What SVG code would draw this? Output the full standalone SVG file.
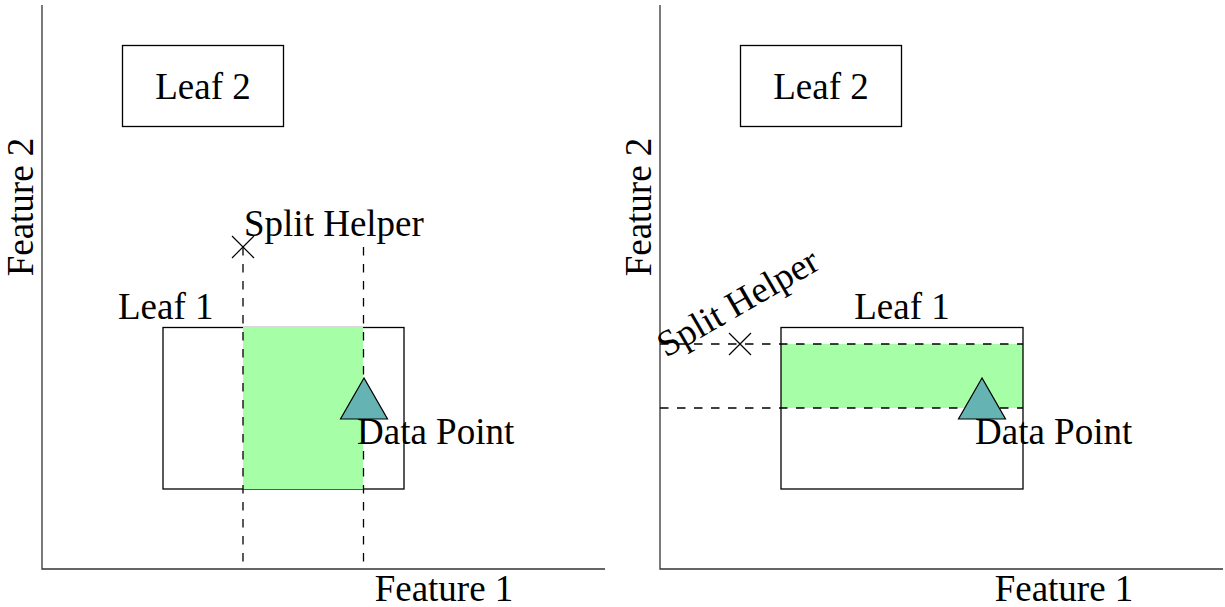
<svg xmlns="http://www.w3.org/2000/svg" width="1225" height="607" viewBox="0 0 1225 607">
  <style>
    text { font-family: "Liberation Serif", "Times New Roman", serif; font-size: 37px; fill: #000; }
    .axis { stroke: #333; stroke-width: 1.3; fill: none; }
    .box { stroke: #000; stroke-width: 1.3; fill: none; }
    .region { fill: #a6ffa6; stroke: none; }
    .split { stroke: #000; stroke-width: 1.3; stroke-dasharray: 8.5 8.5; fill: none; }
    .cross { stroke: #000; stroke-width: 1.2; fill: none; }
    .point { fill: #66b3b3; stroke: #000; stroke-width: 1.2; stroke-linejoin: miter; }
  </style>
  <rect width="1225" height="607" fill="#fff"/>

  <!-- Left panel: vertical split -->
  <g id="left-panel">
    <g id="left-axes">
      <path class="axis" d="M42,5 V569 H605"/>
      <text x="444" y="601" text-anchor="middle">Feature 1</text>
      <text transform="translate(33,207) rotate(-90)" text-anchor="middle">Feature 2</text>
    </g>
    <g id="left-leaf2">
      <rect class="box" x="122.5" y="45.5" width="161" height="81"/>
      <text x="203" y="99" text-anchor="middle">Leaf 2</text>
    </g>
    <g id="left-leaf1">
      <rect class="box" x="163" y="327.5" width="241" height="161.5"/>
      <text x="118" y="319">Leaf 1</text>
    </g>
    <g id="left-region">
      <rect class="region" x="243" y="327" width="120" height="162"/>
    </g>
    <g id="left-connectors">
      <line class="split" x1="243" y1="247" x2="243" y2="569"/>
      <line class="split" x1="363.5" y1="247" x2="363.5" y2="569"/>
    </g>
    <g id="left-split-helper">
      <path class="cross" d="M232,236 L254,258 M254,236 L232,258"/>
      <text x="244" y="236">Split Helper</text>
    </g>
    <g id="left-data-point">
      <polygon class="point" points="364,378 340.5,419 387.5,419"/>
      <text x="357" y="444">Data Point</text>
    </g>
  </g>

  <!-- Right panel: horizontal split -->
  <g id="right-panel">
    <g id="right-axes">
      <path class="axis" d="M660,5 V569 H1223"/>
      <text x="1064" y="601" text-anchor="middle">Feature 1</text>
      <text transform="translate(651,207) rotate(-90)" text-anchor="middle">Feature 2</text>
    </g>
    <g id="right-leaf2">
      <rect class="box" x="740.5" y="45.5" width="161" height="81"/>
      <text x="821" y="99" text-anchor="middle">Leaf 2</text>
    </g>
    <g id="right-region">
      <rect class="region" x="781" y="344" width="242" height="64"/>
    </g>
    <g id="right-leaf1">
      <rect class="box" x="781" y="327.5" width="242" height="161.5"/>
      <text x="902" y="319" text-anchor="middle">Leaf 1</text>
    </g>
    <g id="right-connectors">
      <line class="split" x1="660" y1="344" x2="1023" y2="344"/>
      <line class="split" x1="660" y1="408" x2="1023" y2="408"/>
    </g>
    <g id="right-split-helper">
      <path class="cross" d="M729,333 L751,355 M751,333 L729,355"/>
      <text transform="translate(666,358) rotate(-30)">Split Helper</text>
    </g>
    <g id="right-data-point">
      <polygon class="point" points="982,378 958.5,419 1005.5,419"/>
      <text x="975" y="444">Data Point</text>
    </g>
  </g>
</svg>
